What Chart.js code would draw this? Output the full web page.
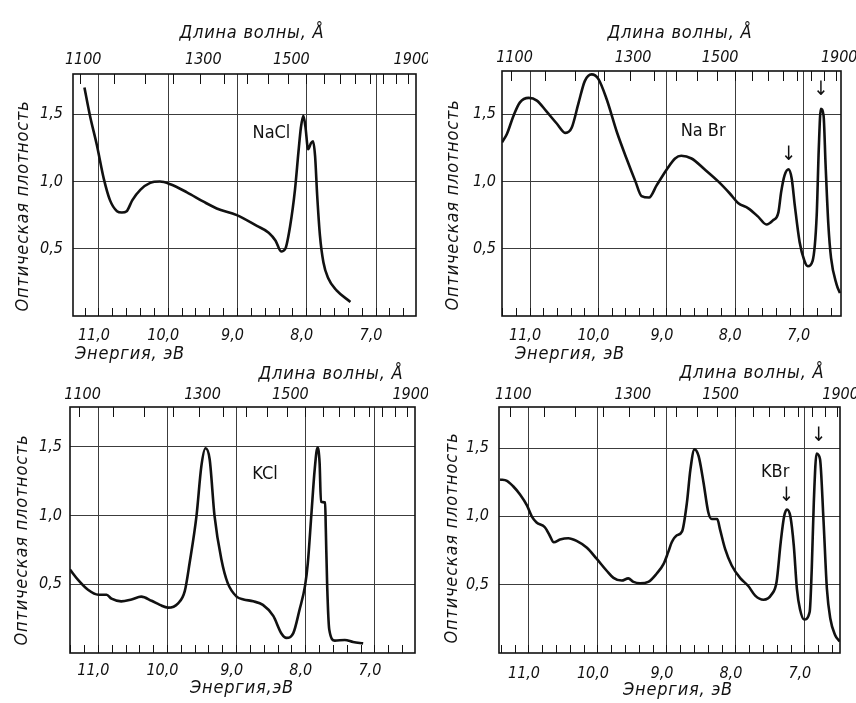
<!DOCTYPE html>
<html lang="ru">
<head>
  <meta charset="UTF-8" />
  <title>Оптическая плотность: NaCl, NaBr, KCl, KBr</title>
  <script src="https://cdn.jsdelivr.net/npm/chart.js"></script>
  <style>
    body { margin: 0; background: #fff; }
    #page { position: relative; width: 856px; height: 703px; overflow: hidden; }
    canvas { position: absolute; }
  </style>
</head>
<body>
<div id="page">
  <canvas id="nacl" width="428" height="368" style="left:0;top:0"></canvas>
  <canvas id="nabr" width="428" height="368" style="left:428px;top:0"></canvas>
  <canvas id="kcl" width="428" height="353" style="left:0;top:350px"></canvas>
  <canvas id="kbr" width="428" height="353" style="left:428px;top:350px"></canvas>
</div>
<script>
  // energy in eV, optical density
  const naclEnergy = [11.21, 11.13, 11.03, 10.93, 10.84, 10.74, 10.67, 10.60, 10.52, 10.40, 10.26, 10.12, 9.97, 9.73, 9.49, 9.30, 9.01, 8.72, 8.55, 8.45, 8.37, 8.31, 8.24, 8.17, 8.12, 8.085, 8.05, 8.02, 7.98, 7.94, 7.91, 7.88, 7.85, 7.81, 7.76, 7.69, 7.57, 7.37];
  const naclDensity = [1.70, 1.49, 1.27, 1.02, 0.86, 0.78, 0.77, 0.78, 0.86, 0.94, 0.99, 1.00, 0.98, 0.92, 0.85, 0.80, 0.75, 0.67, 0.62, 0.56, 0.48, 0.50, 0.67, 0.94, 1.22, 1.40, 1.49, 1.41, 1.24, 1.285, 1.30, 1.19, 0.90, 0.60, 0.40, 0.28, 0.19, 0.105];

  const nabrEnergy = [11.41, 11.34, 11.24, 11.15, 11.02, 10.90, 10.76, 10.61, 10.48, 10.39, 10.29, 10.20, 10.10, 10.00, 9.88, 9.73, 9.59, 9.46, 9.37, 9.26, 9.15, 9.00, 8.88, 8.79, 8.64, 8.45, 8.25, 8.08, 7.96, 7.81, 7.67, 7.545, 7.45, 7.37, 7.33, 7.28, 7.22, 7.175, 7.13, 7.06, 6.99, 6.94, 6.87, 6.81, 6.78, 6.75, 6.71, 6.68, 6.64, 6.60, 6.52, 6.47];
  const nabrDensity = [1.29, 1.35, 1.49, 1.585, 1.62, 1.60, 1.52, 1.43, 1.36, 1.40, 1.585, 1.745, 1.795, 1.76, 1.61, 1.365, 1.17, 1.00, 0.89, 0.88, 0.97, 1.09, 1.17, 1.19, 1.17, 1.09, 1.00, 0.91, 0.84, 0.80, 0.74, 0.68, 0.71, 0.77, 0.92, 1.045, 1.09, 1.02, 0.82, 0.55, 0.41, 0.37, 0.41, 0.75, 1.24, 1.54, 1.49, 1.12, 0.68, 0.43, 0.235, 0.17];

  const kclEnergy = [11.41, 11.29, 11.15, 11.00, 10.88, 10.81, 10.67, 10.52, 10.38, 10.23, 10.11, 9.99, 9.85, 9.75, 9.68, 9.58, 9.51, 9.45, 9.39, 9.32, 9.22, 9.13, 9.00, 8.90, 8.76, 8.62, 8.47, 8.35, 8.28, 8.18, 8.09, 8.01, 7.97, 7.92, 7.87, 7.83, 7.80, 7.78, 7.72, 7.71, 7.69, 7.66, 7.58, 7.435, 7.315, 7.17];
  const kclDensity = [0.607, 0.53, 0.46, 0.424, 0.424, 0.395, 0.376, 0.39, 0.41, 0.38, 0.35, 0.33, 0.36, 0.45, 0.655, 1.00, 1.36, 1.49, 1.41, 1.00, 0.68, 0.51, 0.41, 0.39, 0.376, 0.35, 0.27, 0.14, 0.11, 0.145, 0.315, 0.49, 0.655, 1.00, 1.34, 1.495, 1.385, 1.10, 1.095, 0.90, 0.485, 0.17, 0.09, 0.095, 0.08, 0.07];

  const kbrEnergy = [11.42, 11.32, 11.23, 11.13, 11.03, 10.96, 10.89, 10.77, 10.70, 10.64, 10.55, 10.43, 10.31, 10.16, 10.02, 9.87, 9.775, 9.655, 9.56, 9.485, 9.39, 9.27, 9.15, 9.05, 8.98, 8.93, 8.86, 8.78, 8.71, 8.66, 8.60, 8.54, 8.47, 8.40, 8.35, 8.27, 8.23, 8.155, 8.06, 7.94, 7.82, 7.72, 7.60, 7.48, 7.41, 7.35, 7.30, 7.26, 7.21, 7.16, 7.115, 7.07, 7.01, 6.93, 6.90, 6.87, 6.83, 6.78, 6.73, 6.68, 6.63, 6.56, 6.495];
  const kbrDensity = [1.27, 1.26, 1.22, 1.16, 1.08, 1.00, 0.955, 0.92, 0.86, 0.81, 0.83, 0.84, 0.82, 0.77, 0.69, 0.60, 0.55, 0.53, 0.546, 0.52, 0.51, 0.52, 0.58, 0.65, 0.74, 0.81, 0.86, 0.89, 1.10, 1.34, 1.49, 1.44, 1.25, 1.03, 0.98, 0.98, 0.905, 0.76, 0.64, 0.55, 0.49, 0.42, 0.39, 0.43, 0.52, 0.81, 1.00, 1.05, 1.00, 0.785, 0.47, 0.32, 0.245, 0.30, 0.61, 1.10, 1.46, 1.42, 0.98, 0.47, 0.25, 0.13, 0.085];

  // axes
  const energyLabels = [11, 10, 9, 8, 7];
  const densityTicks = [0.5, 1.0, 1.5];
  const wavelengthLabels = [1100, 1300, 1500, 1900];
  const wavelengthTicks = [1100, 1150, 1200, 1250, 1300, 1350, 1400, 1450, 1500, 1550, 1600, 1650, 1700, 1750, 1800, 1850, 1900];
  const HC = 12398; // eV * Å

  // labels in plot units: [energy, density, text, size]
  const naclNotes = [[8.51, 1.36, 'NaCl', 18]];
  const nabrNotes = [[8.47, 1.37, 'Na Br', 18], [7.22, 1.20, '↓', 20], [6.75, 1.68, '↓', 20]];
  const kclNotes = [[8.59, 1.30, 'KCl', 18]];
  const kbrNotes = [[7.43, 1.32, 'KBr', 18], [7.27, 1.15, '↓', 20], [6.80, 1.59, '↓', 20]];

  const INK = '#111';
  const GRID = '#3c3c3c';
  const FAMILY = '"DejaVu Sans Condensed", "DejaVu Sans", sans-serif';
  const tickFont = { family: FAMILY, size: 16, style: 'italic' };

  const fmt = v => v.toFixed(1).replace('.', ',');
  const isMajor = v => energyLabels.some(e => Math.abs(e - v) < 1e-6);

  const energyTicks = [];
  for (let k = 32; k <= 57; k++) energyTicks.push(+(k * 0.2).toFixed(1));

  const frame = {
    id: 'frame',
    afterDatasetsDraw(chart) {
      const { ctx, chartArea: a } = chart;
      ctx.save();
      ctx.strokeStyle = INK;
      ctx.lineWidth = 1.6;
      ctx.strokeRect(a.left, a.top, a.right - a.left, a.bottom - a.top);
      ctx.restore();
    }
  };

  const notes = {
    id: 'notes',
    afterDatasetsDraw(chart, args, opts) {
      const { ctx, scales } = chart;
      ctx.save();
      ctx.fillStyle = INK;
      ctx.textAlign = 'center';
      ctx.textBaseline = 'middle';
      (opts.items || []).forEach(([e, d, text, size]) => {
        ctx.font = `${size}px ${FAMILY}`;
        ctx.fillText(text, scales.x.getPixelForValue(e), scales.y.getPixelForValue(d));
      });
      ctx.restore();
    }
  };

  // axis titles: reversed scales put start/end titles outside the box, so place them here
  const captions = {
    id: 'captions',
    afterDraw(chart, args, opts) {
      const { ctx } = chart;
      ctx.save();
      ctx.fillStyle = INK;
      ctx.textAlign = 'center';
      ctx.textBaseline = 'middle';
      ctx.font = `italic 18px ${FAMILY}`;
      ctx.letterSpacing = '0.8px';
      (opts.items || []).forEach(([text, x, y, rot]) => {
        ctx.save();
        ctx.translate(x, y);
        if (rot) ctx.rotate(rot);
        ctx.fillText(text, 0, 0);
        ctx.restore();
      });
      ctx.restore();
    }
  };

  function makePanel(id, energy, density, items, c) {
    return new Chart(document.getElementById(id), {
      type: 'line',
      data: {
        datasets: [{
          data: energy.map((e, i) => ({ x: e, y: density[i] })),
          borderColor: INK,
          borderWidth: 2.6,
          pointRadius: 0,
          cubicInterpolationMode: 'monotone',
          fill: false
        }]
      },
      options: {
        responsive: false,
        animation: false,
        devicePixelRatio: 1,
        layout: { padding: { right: c.padRight } },
        plugins: {
          legend: { display: false },
          tooltip: { enabled: false },
          notes: { items },
          captions: {
            items: [
              [c.xTitle, c.xTitlePos[0], c.xTitlePos[1], 0],
              ['Длина волны, Å', c.topTitlePos[0], c.topTitlePos[1], 0],
              ['Оптическая плотность', c.yTitlePos[0], c.yTitlePos[1], -Math.PI / 2]
            ]
          }
        },
        scales: {
          x: {
            type: 'linear', position: 'bottom', reverse: true, min: c.eMin, max: c.eMax,
            afterBuildTicks: s => { s.ticks = energyTicks.filter(v => v >= c.eMin && v <= c.eMax).map(v => ({ value: v })); },
            afterFit: s => { s.height = c.bottomH; s.paddingLeft = 0; s.paddingRight = 0; },
            grid: {
              color: g => (g.tick && isMajor(g.tick.value)) ? GRID : 'rgba(0,0,0,0)',
              tickColor: INK, tickLength: -8, lineWidth: 1
            },
            border: { display: false },
            ticks: {
              autoSkip: false, maxRotation: 0, padding: c.xPad, labelOffset: -5, color: INK, font: tickFont,
              callback: v => isMajor(v) ? fmt(v) : ''
            }
          },
          xTop: {
            type: 'linear', axis: 'x', position: 'top', reverse: true, min: c.eMin, max: c.eMax,
            afterBuildTicks: s => {
              s.ticks = wavelengthTicks.map(l => ({ value: HC / l })).filter(t => t.value >= c.eMin && t.value <= c.eMax);
            },
            afterFit: s => { s.height = c.topH; s.paddingLeft = 0; s.paddingRight = 0; },
            grid: { drawOnChartArea: false, tickColor: INK, tickLength: -10, lineWidth: 1 },
            border: { display: false },
            ticks: {
              autoSkip: false, maxRotation: 0, padding: c.topPad, labelOffset: 3, color: INK, font: tickFont,
              callback: v => { const l = Math.round(HC / v); return wavelengthLabels.includes(l) ? String(l) : ''; }
            }
          },
          y: {
            min: 0, max: c.dMax,
            afterBuildTicks: s => { s.ticks = densityTicks.map(v => ({ value: v })); },
            afterFit: s => { s.width = c.leftW; s.paddingTop = 0; s.paddingBottom = 0; },
            grid: { color: GRID, drawTicks: false, lineWidth: 1 },
            border: { display: false },
            ticks: { padding: c.yPad, color: INK, font: tickFont, callback: v => fmt(v) }
          }
        }
      },
      plugins: [frame, notes, captions]
    });
  }

  makePanel('nacl', naclEnergy, naclDensity, naclNotes, {
    eMin: 6.423, eMax: 11.375, dMax: 1.80, leftW: 73, topH: 74, bottomH: 52, padRight: 12,
    yPad: 10, topPad: 14.4, xPad: 18.4,
    xTitle: 'Энергия, эВ', xTitlePos: [130, 354], topTitlePos: [252, 33], yTitlePos: [23, 206]
  });
  makePanel('nabr', nabrEnergy, nabrDensity, nabrNotes, {
    eMin: 6.455, eMax: 11.41, dMax: 1.82, leftW: 74, topH: 71, bottomH: 52, padRight: 15,
    yPad: 6, topPad: 13.9, xPad: 18.4,
    xTitle: 'Энергия, эВ', xTitlePos: [142, 354], topTitlePos: [252, 33], yTitlePos: [25, 205]
  });
  makePanel('kcl', kclEnergy, kclDensity, kclNotes, {
    eMin: 6.42, eMax: 11.41, dMax: 1.79, leftW: 70, topH: 57, bottomH: 50, padRight: 13,
    yPad: 8, topPad: 12.4, xPad: 16.4,
    xTitle: 'Энергия,эВ', xTitlePos: [242, 338], topTitlePos: [331, 24], yTitlePos: [22, 190]
  });
  makePanel('kbr', kbrEnergy, kbrDensity, kbrNotes, {
    eMin: 6.49, eMax: 11.435, dMax: 1.80, leftW: 71, topH: 57, bottomH: 50, padRight: 16,
    yPad: 10, topPad: 12.9, xPad: 19.4,
    xTitle: 'Энергия, эВ', xTitlePos: [250, 340], topTitlePos: [324, 23], yTitlePos: [24, 188]
  });
</script>
</body>
</html>
